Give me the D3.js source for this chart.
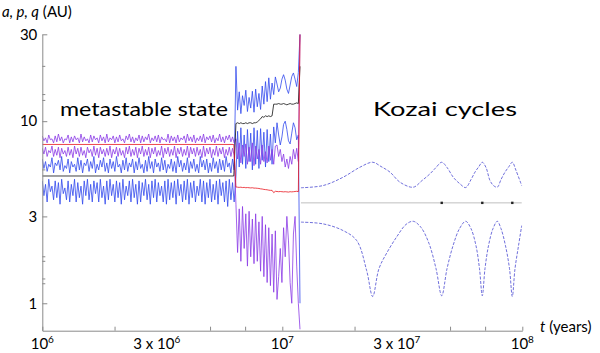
<!DOCTYPE html>
<html>
<head>
<meta charset="utf-8">
<script src="https://cdn.jsdelivr.net/npm/d3@7"></script>
<style>
  body { margin: 0; background: #fff; }
  svg { display: block; font-family: Lato, "Open Sans", sans-serif; }
</style>
</head>
<body>
<svg id="chart" width="600" height="353"></svg>
<script>
// TIME SPANS OF THE TWO NOISY STRETCHES (years), samples are spread evenly in log t
var metaSpan = [1e6, 6.3e6];
var transSpan = [6.41e6, 1.185e7];

// METASTABLE STATE (AU)
var metaPInner = [6.2,5.5,6.0,5.3,5.8,5.6,6.3,5.2,5.9,5.7,6.1,5.4,6.4,5.3,5.7,5.5,6.2,5.2,6.0,5.6,
  5.8,5.3,6.3,5.4,6.1,5.2,5.9,5.7,6.2,5.3,6.0,5.5,6.4,5.2,5.8,5.4,6.1,5.6,6.3,5.3,
  5.9,5.2,6.2,5.5,6.0,5.3,6.4,5.6,5.8,5.2,6.1,5.4,6.3,5.3,5.9,5.6,6.2,5.2,6.0,5.4,
  6.3,5.5,5.8,5.2,6.1,5.3,6.4,5.5,6.0,5.2,6.2,5.6,5.9,5.3,6.3,5.4,6.1,5.2,5.8,5.5,
  6.2,5.3,6.0,5.2,6.4,5.6,6.1,5.3,5.9,5.4,6.3,5.2,6.0,5.5,6.2,5.3,5.8,5.2,6.4,5.6,
  6.1,5.4,6.2,5.2,5.9,5.3,6.3,5.5,6.0,5.2,6.2,5.4,6.1,5.3,6.4,5.6,5.9,5.2,6.2,5.4];
var metaQInner = [4.7,3.9,4.5,3.6,4.8,4.1,4.4,3.7,4.7,3.8,4.6,3.5,4.8,4.0,4.3,3.7,4.7,3.6,4.5,3.9,
  4.8,3.6,4.6,3.8,4.4,3.5,4.7,3.9,4.8,3.7,4.5,3.6,4.7,4.0,4.6,3.6,4.8,3.8,4.4,3.5,
  4.7,3.7,4.8,3.9,4.5,3.6,4.7,3.8,4.6,3.5,4.8,3.7,4.4,3.9,4.7,3.6,4.8,3.8,4.5,3.5,
  4.7,3.6,4.6,3.9,4.8,3.7,4.5,3.5,4.7,3.8,4.8,3.6,4.6,3.9,4.4,3.6,4.7,3.5,4.8,3.7,
  4.6,3.8,4.7,3.5,4.8,3.9,4.5,3.6,4.7,3.7,4.8,3.5,4.6,3.8,4.7,3.6,4.4,3.9,4.8,3.6,
  4.7,3.5,4.6,3.8,4.8,3.6,4.5,3.7,4.7,3.5,4.8,3.9,4.6,3.6,4.7,3.4,4.8,3.7,4.6,3.6];
var metaPOuter = [8.3,7.8,8.1,7.6,8.4,7.9,8.0,7.6,8.3,7.7,8.5,7.8,8.2,7.6,8.0,7.9,8.4,7.6,8.2,7.7,
  8.3,7.9,8.1,7.6,8.5,7.7,8.2,7.8,8.0,7.6,8.4,7.7,8.3,7.9,8.1,7.6,8.4,7.8,8.2,7.6,
  8.5,7.7,8.1,7.9,8.3,7.6,8.2,7.7,8.4,7.8,8.0,7.6,8.3,7.9,8.5,7.7,8.2,7.6,8.1,7.8,
  8.4,7.6,8.3,7.7,8.2,7.9,8.5,7.6,8.1,7.8,8.3,7.7,8.4,7.6,8.2,7.9,8.0,7.7,8.5,7.6,
  8.3,7.8,8.2,7.6,8.4,7.7,8.1,7.9,8.3,7.6,8.5,7.8,8.2,7.7,8.4,7.6,8.1,7.8,8.3,7.7,
  8.5,7.6,8.2,7.9,8.3,7.7,8.4,7.6,8.1,7.8,8.5,7.7,8.2,7.6,8.3,7.9,8.4,7.7,8.2,7.6];
var metaQOuter = [7.1,6.6,7.2,6.4,6.9,6.7,7.3,6.4,7.0,6.5,7.2,6.3,7.1,6.6,6.9,6.4,7.2,6.5,7.0,6.3,
  7.3,6.6,7.1,6.4,7.2,6.5,6.9,6.3,7.2,6.7,7.0,6.4,7.3,6.5,7.1,6.3,7.2,6.6,7.0,6.4,
  7.1,6.5,7.3,6.3,7.0,6.6,7.2,6.4,7.1,6.5,6.9,6.3,7.2,6.6,7.3,6.4,7.0,6.5,7.2,6.3,
  7.1,6.6,7.3,6.4,7.0,6.5,7.2,6.3,7.1,6.6,7.2,6.4,6.9,6.5,7.3,6.3,7.1,6.6,7.2,6.4,
  7.0,6.5,7.3,6.3,7.1,6.6,7.2,6.4,7.0,6.5,7.3,6.3,7.2,6.6,7.1,6.4,7.2,6.5,7.0,6.3,
  7.3,6.4,7.1,6.6,7.2,6.3,7.0,6.5,7.3,6.4,7.1,6.6,7.2,6.3,7.0,6.5,7.2,6.4,7.1,6.5];
var metaAInner = [5.0, 5.0];
var metaAOuter = [7.45, 7.45];

// UNSTABLE STRETCH (AU)
var transPInner = [20,11.5,14.5,11.0,13.8,12.2,14.8,11.3,13.5,11.8,14.6,11.2,15.0,12.0,14.2,11.6,15.6,12.4,16.5,12.8,
  17.3,13.2,16.2,14.0,17.5,16.0,14.5,15.2,17.0,18.0,16.8,15.0,14.2,15.8,17.6,18.4,17.0,15.5,18.5,30];
var transQInner = [5.0,8.8,5.6,9.2,5.8,8.4,5.5,9.0,6.0,8.6,5.4,9.2,5.8,8.9,5.5,9.1,6.1,8.7,5.6,9.0,
  6.0,8.5,5.8,9.3,7.6,9.8,8.4,7.4,8.2,9.6,10.0,9.0,7.8,7.5,8.6,9.8,9.2,7.9,8.4,1.0];
var transPOuter = [8.0,6.2,7.6,5.9,7.4,6.4,7.5,5.8,7.2,6.0,7.6,5.7,7.3,6.2,7.0,5.8,7.4,6.0,6.8,5.9,
  7.3,6.1,7.0,5.8,7.3,7.4,6.4,7.0,6.0,6.6,5.6,6.2,5.5,6.4,5.8,7.0,6.2,7.1,6.0,30];
var transQOuter = [3.5,1.9,3.3,1.7,3.4,2.0,3.1,1.6,3.2,1.8,2.9,1.65,3.1,1.7,2.8,1.5,3.0,1.4,2.7,1.3,
  2.6,1.25,2.4,1.15,2.5,1.05,1.4,2.0,1.3,2.6,1.8,3.0,2.2,1.3,1.0,2.4,3.0,1.6,1.0,0.72];
var transAInner = [9.7,9.8,9.7,9.8,9.7,9.7,9.8,9.7,9.8,9.8,9.7,9.8,9.8,9.9,10.1,10.3,10.6,10.5,10.7,10.6,
  10.7,10.6,10.7,12.4,12.4,12.4,12.5,12.4,12.4,12.5,12.4,12.3,12.4,12.5,12.4,12.4,12.5,12.6,12.5,20];
var transAOuter = [4.35,4.34,4.33,4.34,4.32,4.33,4.31,4.32,4.31,4.30,4.31,4.29,4.29,4.28,4.27,4.25,4.24,4.22,4.21,4.20,
  4.18,4.17,4.17,4.05,4.12,4.11,4.10,4.11,4.10,4.09,4.10,4.09,4.08,4.10,4.09,4.10,4.11,4.12,4.10,30];

// KOZAI CYCLES [t, AU]
var kozaiP = [[1.196e7,4.31],[1.478e7,4.43],[1.790e7,4.92],[2.108e7,5.59],[2.380e7,5.95],[2.577e7,5.64],
  [2.811e7,5.25],[3.094e7,4.62],[3.514e7,4.34],[3.821e7,4.72],[4.125e7,5.14],[4.370e7,5.57],[4.616e7,5.95],
  [4.857e7,5.57],[5.158e7,4.92],[5.474e7,4.55],[5.810e7,4.32],[6.113e7,4.78],[6.351e7,5.25],[6.600e7,5.64],
  [6.812e7,5.95],[7.059e7,5.57],[7.335e7,4.72],[7.586e7,4.43],[7.866e7,4.34],[8.152e7,4.78],[8.470e7,5.25],
  [8.802e7,5.64],[9.085e7,5.95],[9.415e7,5.36],[9.943e7,4.43]];
var kozaiQ = [[1.196e7,2.79],[1.478e7,2.73],[1.790e7,2.51],[2.042e7,2.21],[2.247e7,1.51],[2.380e7,1.09],
  [2.528e7,1.55],[2.731e7,1.90],[3.006e7,2.33],[3.277e7,2.71],[3.514e7,2.82],[3.784e7,2.61],[4.086e7,2.13],
  [4.370e7,1.55],[4.616e7,1.10],[4.857e7,1.55],[5.144e7,2.07],[5.474e7,2.57],[5.810e7,2.82],[6.113e7,2.57],
  [6.413e7,2.07],[6.632e7,1.55],[6.812e7,1.10],[6.991e7,1.55],[7.230e7,2.07],[7.549e7,2.57],[7.866e7,2.82],
  [8.152e7,2.57],[8.511e7,2.07],[8.845e7,1.55],[9.085e7,1.09],[9.324e7,1.55],[9.643e7,2.07],[9.943e7,2.67]];
var kozaiA = [[1.196e7,3.56],[9.943e7,3.56]];
var kozaiMarks = [4.616e7, 6.812e7, 9.085e7];

// AXES
var xMajorT = [1e6, 1e7, 1e8];
var xMinorT = [2e6, 5e6, 7e6, 2e7, 5e7, 7e7];
var xLabelT = [1e6, 3e6, 1e7, 3e7, 1e8];
var xLabelBase = ['10', '3 x 10', '10', '3 x 10', '10'];
var xLabelExp = ['6', '6', '7', '7', '8'];
var yLabelV = [1, 3, 10, 30];
var yMinorV = [20, 14, 13, 5.4, 1.8, 1.7, 1.36, 1.28];

var svg = d3.select('#chart');
var x = d3.scaleLog().domain([1e6, 1e8]).range([42.3, 522.3]);
var y = d3.scaleLog().domain([0.707, 30]).range([330.7, 34.3]);

svg.append('clipPath').attr('id', 'plot')
  .append('rect').attr('x', 42.3).attr('y', 34.3).attr('width', 480).attr('height', 296.4);

// spreads a value list evenly (in log t) across a time span
function spread(vals, span) {
  var n = vals.length;
  return vals.map(function(v, i) {
    var t = span[0] * Math.pow(span[1] / span[0], n > 1 ? i / (n - 1) : 0);
    return [t, v];
  });
}

var line = d3.line().x(function(d) { return x(d[0]); }).y(function(d) { return y(d[1]); });
var smooth = d3.line().x(function(d) { return x(d[0]); }).y(function(d) { return y(d[1]); })
  .curve(d3.curveCatmullRom.alpha(0.5));

var g = svg.append('g').attr('clip-path', 'url(#plot)');

var solid = [
  {d: spread(metaQInner, metaSpan).concat(spread(transQInner, transSpan)), c: '#3149ee'},
  {d: spread(metaPInner, metaSpan).concat(spread(transPInner, transSpan)), c: '#3149ee'},
  {d: spread(metaPOuter, metaSpan).concat(spread(transPOuter, transSpan)), c: '#8a3ae6'},
  {d: spread(metaQOuter, metaSpan).concat(spread(transQOuter, transSpan)), c: '#8a3ae6'},
  {d: spread(metaAInner, [1e6, 6.28e6]).concat(spread(transAInner, transSpan)), c: '#111'},
  {d: spread(metaAOuter, [1e6, 6.28e6]).concat(spread(transAOuter, transSpan)), c: '#e8161f'}
];

g.selectAll('.orbit').data(solid).enter().append('path')
  .attr('class', 'orbit')
  .attr('d', function(s) { return line(s.d); })
  .attr('fill', 'none')
  .attr('stroke', function(s) { return s.c; })
  .attr('stroke-width', 0.8);

// kozai part
g.append('path').attr('d', line(kozaiA)).attr('fill', 'none')
  .attr('stroke', '#b0b0b0').attr('stroke-width', 0.8);
g.selectAll('.mark').data(kozaiMarks).enter().append('rect')
  .attr('x', function(t) { return x(t) - 1.2; })
  .attr('y', y(3.56) - 1.2)
  .attr('width', 2.4).attr('height', 2.4)
  .attr('fill', '#222');
[kozaiP, kozaiQ].forEach(function(s) {
  g.append('path').attr('d', smooth(s)).attr('fill', 'none')
    .attr('stroke', '#4b4bd2').attr('stroke-width', 0.8)
    .attr('stroke-dasharray', '3,1.5');
});

// AXES
var axisColor = '#8a8a8a';
var xAxis = svg.append('g').attr('transform', 'translate(0,330.7)')
  .call(d3.axisBottom(x).tickValues(xMajorT.concat(xMinorT)).tickSizeInner(-4).tickSizeOuter(0).tickFormat(''));
var yAxis = svg.append('g').attr('transform', 'translate(42.3,0)')
  .call(d3.axisLeft(y).tickValues(yLabelV).tickSizeInner(-5).tickSizeOuter(0).tickPadding(5).tickFormat(d3.format('d')));
svg.append('g').selectAll('line').data(yMinorV).enter().append('line')
  .attr('x1', 42.3).attr('x2', 45.3)
  .attr('y1', function(v) { return y(v); }).attr('y2', function(v) { return y(v); })
  .attr('stroke', axisColor);
[xAxis, yAxis].forEach(function(a) {
  a.selectAll('path, line').attr('stroke', axisColor);
});
yAxis.selectAll('text').attr('fill', '#000').attr('font-size', 15).attr('font-family', 'Lato, sans-serif');

var xl = svg.append('g').selectAll('text').data(xLabelT).enter().append('text')
  .attr('x', function(t) { return x(t); })
  .attr('y', 349)
  .attr('text-anchor', 'middle')
  .attr('font-size', 15);
xl.append('tspan').text(function(t, i) { return xLabelBase[i]; });
xl.append('tspan').attr('dy', -6).attr('font-size', 10).text(function(t, i) { return xLabelExp[i]; });

// TITLES
var yt = svg.append('text').attr('x', 2).attr('y', 17).attr('font-size', 15);
yt.append('tspan').attr('font-style', 'italic').text('a, p, q');
yt.append('tspan').text(' (AU)');

var xt = svg.append('text').attr('x', 540).attr('y', 332).attr('font-size', 15);
xt.append('tspan').attr('font-style', 'italic').text('t');
xt.append('tspan').text(' (years)');

svg.append('text').attr('x', 60).attr('y', 116).attr('font-size', 20)
  .attr('textLength', 168).attr('lengthAdjust', 'spacingAndGlyphs').text('metastable state');
svg.append('text').attr('x', 373).attr('y', 116).attr('font-size', 20)
  .attr('textLength', 144).attr('lengthAdjust', 'spacingAndGlyphs').text('Kozai cycles');
</script>
</body>
</html>
